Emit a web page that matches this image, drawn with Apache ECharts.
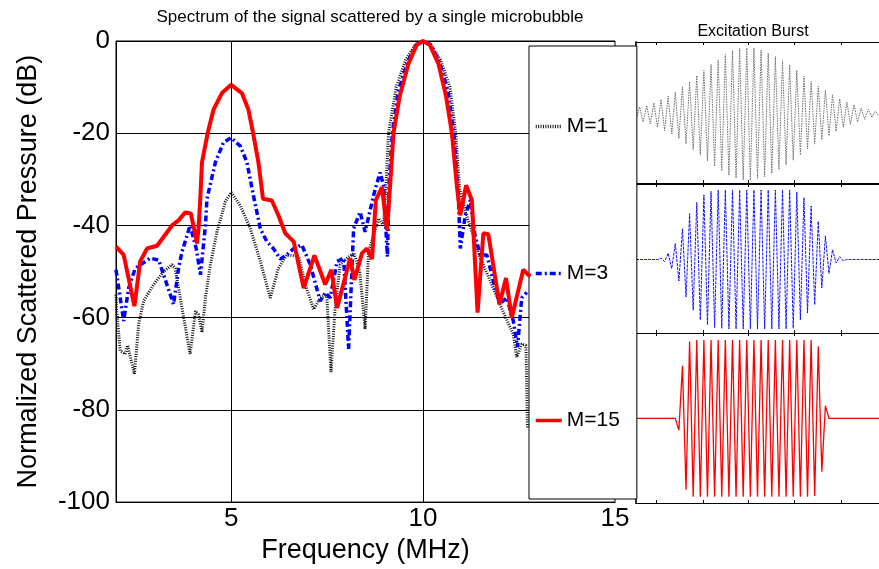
<!DOCTYPE html>
<html>
<head>
<meta charset="utf-8">
<script src="https://cdn.jsdelivr.net/npm/echarts@6/dist/echarts.min.js"></script>
<style>
  html, body { margin: 0; padding: 0; background: #fff; }
  #chart { width: 879px; height: 569px; }
</style>
</head>
<body>
<div id="chart"></div>
<script>
// spectrum curves, frequency in MHz / level in dB
const freqM1 = [2.0, 2.02, 2.11, 2.24, 2.3, 2.48, 2.59, 2.72, 2.98, 3.24, 3.46, 3.54, 3.72, 3.93, 4.07, 4.15, 4.24, 4.33, 4.46, 4.63, 4.85, 5.0, 5.24, 5.5, 5.76, 6.02, 6.23, 6.45, 6.76, 6.93, 7.15, 7.32, 7.49, 7.6, 7.71, 7.84, 8.02, 8.2, 8.35, 8.49, 8.58, 8.84, 8.97, 9.03, 9.1, 9.3, 9.55, 9.8, 10.0, 10.2, 10.45, 10.7, 10.85, 10.95, 11.13, 11.3, 11.49, 11.75, 12.0, 12.35, 12.44, 12.57, 12.68, 12.72];
const dbM1 = [-55, -58.6, -67.2, -67.9, -66, -72.2, -61.4, -56.4, -52.8, -50.0, -48.5, -49.3, -57.9, -67.9, -58.6, -59.3, -63.2, -55.7, -48.5, -41.4, -34.8, -32.8, -35.7, -40.7, -47.8, -55.7, -49.3, -46.4, -46.7, -52.8, -58.2, -55.7, -55, -71.8, -57.9, -48.5, -47.1, -46, -50, -62.5, -45.7, -38.5, -40, -32, -20, -10, -4, -0.8, 0, -0.8, -4, -10, -20, -32, -37.8, -42, -47.1, -52, -57.1, -63.6, -68.6, -65.7, -66, -84];

const freqM3 = [2.0, 2.2, 2.33, 2.5, 2.89, 3.11, 3.5, 3.63, 3.72, 3.93, 4.09, 4.2, 4.33, 4.37, 4.59, 4.8, 5.0, 5.24, 5.41, 5.58, 5.76, 5.93, 6.1, 6.28, 6.5, 6.63, 6.84, 7.06, 7.32, 7.45, 7.58, 7.76, 7.93, 8.06, 8.19, 8.36, 8.49, 8.71, 8.88, 8.97, 9.07, 9.12, 9.2, 9.35, 9.6, 9.82, 10.0, 10.2, 10.42, 10.65, 10.8, 10.92, 10.97, 11.1, 11.23, 11.35, 11.49, 11.66, 11.83, 12.0, 12.18, 12.35, 12.46, 12.57, 12.7];
const dbM3 = [-49.6, -60.7, -53.6, -49.3, -47.1, -47.5, -57.1, -49.3, -45.7, -40.0, -45, -50.7, -40, -34.2, -26.3, -22, -21, -22.8, -26.3, -33.5, -40.7, -43.5, -45, -47.3, -46, -45, -44.2, -48.5, -56.4, -54.6, -55.7, -47.8, -47.1, -66.8, -40.7, -37.1, -41.4, -33.5, -28.5, -31.4, -46.8, -30, -20, -11, -4.5, -0.8, 0, -0.8, -4.5, -11, -20, -34, -45, -37.8, -34.5, -42, -46.4, -46.4, -52, -57, -55.7, -60.7, -66.4, -55.7, -54.5];

const freqM15 = [2.0, 2.2, 2.48, 2.63, 2.81, 3.07, 3.46, 3.63, 3.80, 3.95, 4.11, 4.15, 4.2, 4.24, 4.39, 4.54, 4.76, 5.0, 5.28, 5.45, 5.57, 5.71, 5.83, 6.06, 6.23, 6.41, 6.63, 6.89, 7.17, 7.45, 7.61, 7.76, 8.1, 8.21, 8.41, 8.54, 8.67, 8.77, 8.93, 9.06, 9.14, 9.23, 9.39, 9.62, 9.83, 10.0, 10.18, 10.4, 10.6, 10.75, 10.88, 10.97, 11.12, 11.27, 11.42, 11.57, 11.7, 11.99, 12.16, 12.31, 12.61, 12.74, 12.8];
const dbM15 = [-44.6, -46.4, -57.5, -47.8, -45.0, -44.4, -40.0, -38.9, -37.2, -37.4, -43.9, -40.7, -33.5, -26.3, -19.9, -14.9, -11.3, -9.5, -11.3, -14.9, -19.9, -26.3, -34.2, -34.6, -37.8, -41.7, -43.5, -53.6, -46.5, -52.8, -49.6, -57.9, -47.1, -51.8, -46.0, -45.0, -47.3, -34.5, -31.7, -41.0, -31.4, -19.9, -12, -4.9, -0.9, 0, -0.9, -4.9, -12, -19.9, -31.4, -37.8, -31.3, -34.5, -58.9, -41.7, -41.9, -57.1, -51.4, -60.0, -49.6, -50.7, -51];

const legendNames = ['M=1', 'M=3', 'M=15'];
const freqTicks = [5, 10, 15];

// excitation bursts: successive peak / trough values per half period (normalised)
const burstM1 = [-0.10, 0.11, -0.12, 0.13, -0.15, 0.17, -0.20, 0.22, -0.25, 0.27, -0.30, 0.33, -0.37, 0.41, -0.45, 0.49, -0.54, 0.58, -0.62, 0.66, -0.71, 0.75, -0.79, 0.82, -0.86, 0.90, -0.93, 0.96, -0.97, 0.99, -1.0, 1.0, -1.0, 1.0, -0.98, 0.97, -0.95, 0.92, -0.90, 0.87, -0.84, 0.81, -0.77, 0.74, -0.70, 0.66, -0.62, 0.57, -0.53, 0.49, -0.45, 0.42, -0.39, 0.36, -0.33, 0.29, -0.26, 0.23, -0.20, 0.18, -0.16, 0.14, -0.12, 0.09, -0.08, 0.07, -0.05, 0.04, -0.03];
const burstM3 = [0, 0, 0, 0, 0, 0, 0, 0.02, -0.03, 0.09, -0.13, 0.23, -0.31, 0.44, -0.54, 0.66, -0.73, 0.82, -0.87, 0.93, -0.94, 0.98, -0.98, 1.0, -0.99, 1.0, -1.0, 1.0, -1.0, 1.0, -1.0, 1.0, -1.0, 1.0, -1.0, 1.0, -1.0, 1.0, -1.0, 1.0, -1.0, 1.0, -1.0, 1.0, -0.99, 0.97, -0.87, 0.89, -0.77, 0.77, -0.65, 0.55, -0.41, 0.34, -0.20, 0.14, -0.05, 0.04, -0.02, 0, 0, 0, 0, 0, 0, 0, 0, 0, 0];
const burstM15 = [0, 0, 0, 0, 0, 0, 0, 0, 0, 0, 0, 0, -0.15, 0.67, -0.91, 0.98, -1.0, 1.0, -1.0, 1.0, -1.0, 1.0, -1.0, 1.0, -1.0, 1.0, -1.0, 1.0, -1.0, 1.0, -1.0, 1.0, -1.0, 1.0, -1.0, 1.0, -1.0, 1.0, -1.0, 1.0, -1.0, 1.0, -1.0, 1.0, -1.0, 1.0, -1.0, 1.0, -1.0, 1.0, -0.99, 0.92, -0.68, 0.16, 0, 0, 0, 0, 0, 0, 0, 0, 0, 0, 0, 0, 0, 0, 0];
const burstTicks = [5.8, 18.7, 31.4, 44.3, 57.3];

const FONT = "'Liberation Sans', Arial, sans-serif";

function pairs(xs, ys) {
    return xs.map((x, i) => [x, ys[i]]);
}
function indexed(vals) {
    return vals.map((v, i) => [i, v]);
}

// panel layout for the three bursts
const panels = [
    { top: 42, height: 141, min: -1.045, max: 1.09, data: burstM1, line: { color: '#707070', width: 1, type: [1.5, 1] } },
    { top: 184, height: 149, min: -1.058, max: 1.086, data: burstM3, line: { color: '#1010ff', width: 1, type: [3, 1] } },
    { top: 333, height: 170, min: -1.08, max: 1.09, data: burstM15, line: { color: '#ff0000', width: 1.3, type: 'solid' } }
];

let grids = [{ left: 116, top: 41, right: 264, bottom: 63, show: true, borderColor: '#000', borderWidth: 1, backgroundColor: '#fff' }];
let xAxes = [{
    type: 'value', gridIndex: 0, min: 2, max: 15, interval: 1,
    name: 'Frequency (MHz)', nameLocation: 'middle', nameGap: 30,
    nameTextStyle: { fontFamily: FONT, fontSize: 27, color: '#000' },
    axisLine: { show: true, onZero: false, lineStyle: { color: '#000', width: 1 } },
    axisTick: { show: false },
    splitLine: { show: false },
    axisLabel: {
        fontFamily: FONT, fontSize: 26, color: '#000', margin: 4,
        formatter: v => freqTicks.indexOf(v) >= 0 ? String(v) : ''
    }
}];
let yAxes = [{
    type: 'value', gridIndex: 0, min: -100, max: 0, interval: 20,
    name: 'Normalized Scattered Pressure (dB)', nameLocation: 'middle', nameGap: 74,
    nameTextStyle: { fontFamily: FONT, fontSize: 27, color: '#000' },
    axisLine: { show: true, onZero: false, lineStyle: { color: '#000', width: 1 } },
    axisTick: { show: false },
    splitLine: { show: true, lineStyle: { color: '#000', width: 1 } },
    axisLabel: { fontFamily: FONT, fontSize: 26, color: '#000', margin: 6 }
}];

let series = [
    {
        // vertical grid lines at 5 and 10 MHz
        type: 'line', xAxisIndex: 0, yAxisIndex: 0, data: [], z: 1, silent: true,
        markLine: {
            silent: true, symbol: 'none', label: { show: false },
            lineStyle: { color: '#000', width: 1, type: 'solid' },
            data: [{ xAxis: 5 }, { xAxis: 10 }]
        }
    },
    {
        name: 'M=1', type: 'line', xAxisIndex: 0, yAxisIndex: 0,
        data: pairs(freqM1, dbM1), symbol: 'none', z: 2,
        lineStyle: { color: '#111', width: 3, type: [1, 1.4] }, itemStyle: { color: '#111' }
    },
    {
        name: 'M=3', type: 'line', xAxisIndex: 0, yAxisIndex: 0,
        data: pairs(freqM3, dbM3), symbol: 'none', z: 3,
        lineStyle: { color: '#0000ff', width: 3.5, type: [6, 3, 2, 3] }, itemStyle: { color: '#0000ff' }
    },
    {
        name: 'M=15', type: 'line', xAxisIndex: 0, yAxisIndex: 0,
        data: pairs(freqM15, dbM15), symbol: 'none', z: 4,
        lineStyle: { color: '#ff0000', width: 4 }, itemStyle: { color: '#ff0000' }
    }
];

panels.forEach((p, k) => {
    grids.push({ left: 636, top: p.top, width: 243, height: p.height });
    ['bottom', 'top'].forEach(pos => {
        xAxes.push({
            type: 'value', gridIndex: k + 1, position: pos, min: 0, max: 68,
            axisLine: { show: true, onZero: false, lineStyle: { color: '#000', width: 1 } },
            axisTick: { show: true, inside: true, length: 3, customValues: burstTicks, lineStyle: { color: '#000' } },
            axisLabel: { show: false },
            splitLine: { show: false }
        });
    });
    yAxes.push({
        type: 'value', gridIndex: k + 1, min: p.min, max: p.max,
        axisLine: { show: true, onZero: false, lineStyle: { color: '#333', width: 2 } },
        axisTick: { show: false }, axisLabel: { show: false }, splitLine: { show: false }
    });
    series.push({
        type: 'line', xAxisIndex: 1 + 2 * k, yAxisIndex: k + 1,
        data: indexed(p.data), symbol: 'none', silent: true,
        lineStyle: p.line
    });
});

const chart = echarts.init(document.getElementById('chart'));
chart.setOption({
    animation: false,
    backgroundColor: '#fff',
    title: [
        {
            text: 'Spectrum of the signal scattered by a single microbubble',
            left: 365, top: 4, textAlign: 'center',
            textStyle: { fontFamily: FONT, fontSize: 17, fontWeight: 'normal', color: '#000' }
        },
        {
            text: 'Excitation Burst',
            left: 748, top: 19, textAlign: 'center',
            textStyle: { fontFamily: FONT, fontSize: 16, fontWeight: 'normal', color: '#000' }
        }
    ],
    legend: {
        data: legendNames, orient: 'vertical', left: 529, top: 46,
        padding: [70, 17, 68, 5], itemGap: 126, itemWidth: 26, itemHeight: 14,
        backgroundColor: '#fff', borderColor: '#000', borderWidth: 1,
        itemStyle: { opacity: 0 },
        lineStyle: { width: 3.5 },
        textStyle: { fontFamily: FONT, fontSize: 21, color: '#000' },
        selectedMode: false
    },
    grid: grids,
    xAxis: xAxes,
    yAxis: yAxes,
    series: series
});
</script>
</body>
</html>
